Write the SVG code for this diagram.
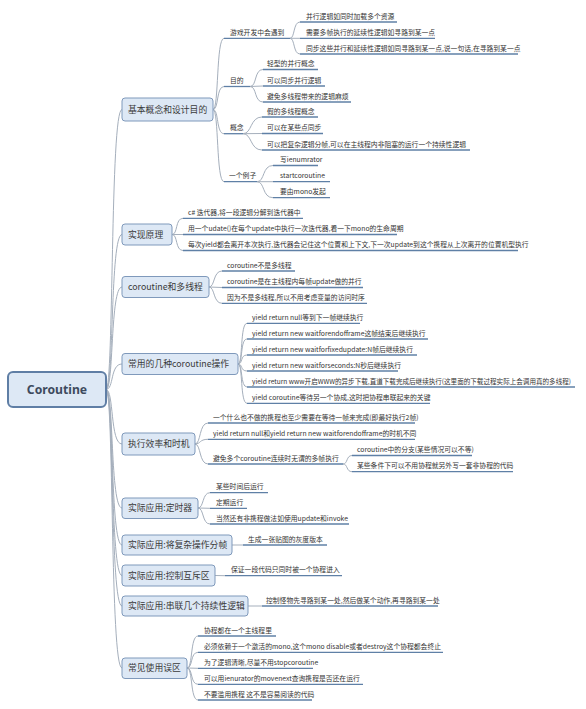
<svg xmlns="http://www.w3.org/2000/svg" width="586" height="709" viewBox="0 0 586 709">
<style>
text{font-family:"Noto Sans CJK SC","Noto Sans",sans-serif;fill:#333}
.t2{font-size:6.8px}
.t1{font-size:8.8px;fill:#3a3a3a}
.t0{font-family:"Noto Sans","Noto Sans CJK SC",sans-serif;font-size:12.2px;font-weight:bold;fill:#3d4b5e}
.box{fill:#dde8f5;stroke:#7f99bb;stroke-width:1}
.root{fill:#dde8f5;stroke:#5f7ea5;stroke-width:2}
.c{fill:none;stroke:#a5afbc;stroke-width:1}
.u{fill:none;stroke:#5f80a6;stroke-width:1.3}
</style>
<rect width="586" height="709" fill="#fff"/>
<g id="connectors">
<path class="c" d="M106 389.5 C114 389.5 110 109.5 122 109.5"/>
<path class="c" d="M106 389.5 C114 389.5 110 234.5 122 234.5"/>
<path class="c" d="M106 389.5 C114 389.5 110 287 122 287"/>
<path class="c" d="M106 389.5 C114 389.5 110 364 122 364"/>
<path class="c" d="M106 389.5 C114 389.5 110 444 122 444"/>
<path class="c" d="M106 389.5 C114 389.5 110 508 122 508"/>
<path class="c" d="M106 389.5 C114 389.5 110 545 122 545"/>
<path class="c" d="M106 389.5 C114 389.5 110 575.5 122 575.5"/>
<path class="c" d="M106 389.5 C114 389.5 110 606 122 606"/>
<path class="c" d="M106 389.5 C114 389.5 110 668 122 668"/>
<path class="c" d="M213 109.5 C219 109.5 216 38.3 224 38.3"/>
<path class="c" d="M213 109.5 C219 109.5 216 86.5 224 86.5"/>
<path class="c" d="M213 109.5 C219 109.5 216 133.7 224 133.7"/>
<path class="c" d="M213 109.5 C219 109.5 216 181.7 224 181.7"/>
<path class="c" d="M290 38.3 C295 38.3 293 22 300 22"/>
<path class="c" d="M290 38.3 L300 38.3"/>
<path class="c" d="M290 38.3 C295 38.3 293 54 300 54"/>
<path class="c" d="M250 86.5 C257 86.5 254 69.5 263 69.5"/>
<path class="c" d="M250 86.5 L263 86"/>
<path class="c" d="M250 86.5 C257 86.5 254 102 263 102"/>
<path class="c" d="M243 133.7 C252 133.7 250 117 262 117"/>
<path class="c" d="M243 133.7 L262 133.5"/>
<path class="c" d="M243 133.7 C252 133.7 250 150 262 150"/>
<path class="c" d="M257 181.7 C265 181.7 262 165.5 273 165.5"/>
<path class="c" d="M257 181.7 L273 181.7"/>
<path class="c" d="M257 181.7 C265 181.7 262 197.7 273 197.7"/>
<path class="c" d="M172 234.5 C178 234.5 175 218.3 183 218.3"/>
<path class="c" d="M172 234.5 L183 234.5"/>
<path class="c" d="M172 234.5 C178 234.5 175 250.5 183 250.5"/>
<path class="c" d="M209 287 C215 287 213 271 222 271"/>
<path class="c" d="M209 287 L222 287.5"/>
<path class="c" d="M209 287 C215 287 213 303.3 222 303.3"/>
<path class="c" d="M238 364 C243 364 240 323.3 247 323.3"/>
<path class="c" d="M238 364 C243 364 240 339 247 339"/>
<path class="c" d="M238 364 C243 364 240 355 247 355"/>
<path class="c" d="M238 364 C243 364 240 371 247 371"/>
<path class="c" d="M238 364 C243 364 240 387 247 387"/>
<path class="c" d="M238 364 C243 364 240 403.3 247 403.3"/>
<path class="c" d="M195 444 C201 444 199 423 208 423"/>
<path class="c" d="M195 444 C201 444 199 439.3 208 439.3"/>
<path class="c" d="M195 444 C201 444 199 464 208 464"/>
<path class="c" d="M343 464 C348 464 346 455.5 352 455.5"/>
<path class="c" d="M343 464 C348 464 346 471.7 352 471.7"/>
<path class="c" d="M198 508 C204 508 202 492.7 210 492.7"/>
<path class="c" d="M198 508 L210 508.3"/>
<path class="c" d="M198 508 C204 508 202 524 210 524"/>
<path class="c" d="M232 545 L243 545"/>
<path class="c" d="M215 575.5 L225 575.7"/>
<path class="c" d="M248 606 L262 606"/>
<path class="c" d="M187 668 C193 668 190 636 198 636"/>
<path class="c" d="M187 668 C193 668 190 652.3 198 652.3"/>
<path class="c" d="M187 668 L198 668.3"/>
<path class="c" d="M187 668 C193 668 190 684.3 198 684.3"/>
<path class="c" d="M187 668 C193 668 190 700 198 700"/>
</g>
<g id="root">
<rect class="root" x="8" y="372" width="98" height="35" rx="5"/>
<text class="t0" x="57" y="394" text-anchor="middle">Coroutine</text>
</g>
<g id="n1">
<rect class="box" x="122" y="98" width="91" height="23" rx="3"/>
<text class="t1" x="128" y="112.7">基本概念和设计目的</text>
</g>
<g id="n1a"><path class="u" d="M224 38.3H290"/><text class="t2" x="230" y="34.8">游戏开发中会遇到</text></g>
<g id="n1a1"><path class="u" d="M300 22H397"/><text class="t2" x="306" y="18.5">并行逻辑如同时加载多个资源</text></g>
<g id="n1a2"><path class="u" d="M300 38.3H435"/><text class="t2" x="306" y="34.8">需要多帧执行的延续性逻辑如寻路到某一点</text></g>
<g id="n1a3"><path class="u" d="M300 54H518"/><text class="t2" x="306" y="50.5">同步这些并行和延续性逻辑如同寻路到某一点,说一句话,在寻路到某一点</text></g>
<g id="n1b"><path class="u" d="M224 86.5H250"/><text class="t2" x="230" y="83">目的</text></g>
<g id="n1b1"><path class="u" d="M263 69.5H318"/><text class="t2" x="267" y="66">轻型的并行概念</text></g>
<g id="n1b2"><path class="u" d="M263 86H325"/><text class="t2" x="267" y="82.5">可以同步并行逻辑</text></g>
<g id="n1b3"><path class="u" d="M263 102H351"/><text class="t2" x="267" y="98.5">避免多线程带来的逻辑麻烦</text></g>
<g id="n1c"><path class="u" d="M224 133.7H243"/><text class="t2" x="230" y="130.2">概念</text></g>
<g id="n1c1"><path class="u" d="M262 117H318"/><text class="t2" x="267" y="113.5">假的多线程概念</text></g>
<g id="n1c2"><path class="u" d="M262 133.5H323"/><text class="t2" x="267" y="130">可以在某些点同步</text></g>
<g id="n1c3"><path class="u" d="M262 150H470"/><text class="t2" x="267" y="146.5">可以把复杂逻辑分帧,可以在主线程内非阻塞的运行一个持续性逻辑</text></g>
<g id="n1d"><path class="u" d="M224 181.7H257"/><text class="t2" x="229" y="178.2">一个例子</text></g>
<g id="n1d1"><path class="u" d="M273 165.5H318"/><text class="t2" x="280" y="162">写ienumrator</text></g>
<g id="n1d2"><path class="u" d="M273 181.7H330"/><text class="t2" x="280" y="178.2">startcoroutine</text></g>
<g id="n1d3"><path class="u" d="M273 197.7H330"/><text class="t2" x="280" y="194.2">要由mono发起</text></g>
<g id="n2">
<rect class="box" x="122" y="224" width="50" height="21" rx="3"/>
<text class="t1" x="128" y="237.7">实现原理</text>
</g>
<g id="n2a"><path class="u" d="M183 218.3H303"/><text class="t2" x="188" y="214.8">c# 迭代器,将一段逻辑分解到迭代器中</text></g>
<g id="n2b"><path class="u" d="M183 234.5H397"/><text class="t2" x="188" y="231">用一个udate()在每个update中执行一次迭代器,看一下mono的生命周期</text></g>
<g id="n2c"><path class="u" d="M183 250.5H518"/><text class="t2" x="188" y="247">每次yield都会离开本次执行,迭代器会记住这个位置和上下文,下一次update到这个携程从上次离开的位置机型执行</text></g>
<g id="n3">
<rect class="box" x="122" y="276.5" width="87" height="21" rx="3"/>
<text class="t1" x="128" y="290.2">coroutine和多线程</text>
</g>
<g id="n3a"><path class="u" d="M222 271H295"/><text class="t2" x="227" y="267.5">coroutine不是多线程</text></g>
<g id="n3b"><path class="u" d="M222 287.5H363"/><text class="t2" x="227" y="284">coroutine是在主线程内每帧update做的并行</text></g>
<g id="n3c"><path class="u" d="M222 303.3H367"/><text class="t2" x="227" y="299.8">因为不是多线程,所以不用考虑变量的访问时序</text></g>
<g id="n4">
<rect class="box" x="122" y="353.5" width="116" height="21" rx="3"/>
<text class="t1" x="128" y="367.2">常用的几种coroutine操作</text>
</g>
<g id="n4a"><path class="u" d="M247 323.3H360"/><text class="t2" x="252" y="319.8">yield return null等到下一帧继续执行</text></g>
<g id="n4b"><path class="u" d="M247 339H428"/><text class="t2" x="252" y="335.5">yield return new waitforendofframe这帧结束后继续执行</text></g>
<g id="n4c"><path class="u" d="M247 355H417"/><text class="t2" x="252" y="351.5">yield return new waitforfixedupdate:N帧后继续执行</text></g>
<g id="n4d"><path class="u" d="M247 371H398"/><text class="t2" x="252" y="367.5">yield return new waitforseconds:N秒后继续执行</text></g>
<g id="n4e"><path class="u" d="M247 387H575"/><text class="t2" x="252" y="383.5" textLength="319" lengthAdjust="spacingAndGlyphs">yield return www开启WWW的异步下载,直道下载完成后继续执行(这里面的下载过程实际上会调用真的多线程)</text></g>
<g id="n4f"><path class="u" d="M247 403.3H430"/><text class="t2" x="252" y="399.8">yield coroutine等待另一个协成,这时把协程串联起来的关键</text></g>
<g id="n5">
<rect class="box" x="122" y="433" width="73" height="22" rx="3"/>
<text class="t1" x="128" y="447.2">执行效率和时机</text>
</g>
<g id="n5a"><path class="u" d="M208 423H415"/><text class="t2" x="213" y="419.5">一个什么也不做的携程也至少需要在等待一帧来完成(即最好执行2帧)</text></g>
<g id="n5b"><path class="u" d="M208 439.3H415"/><text class="t2" x="213" y="435.8">yield return null和yield return new waitforendofframe的时机不同</text></g>
<g id="n5c"><path class="u" d="M208 464H343"/><text class="t2" x="213" y="460.5">避免多个coroutine连续时无谓的多帧执行</text></g>
<g id="n5c1"><path class="u" d="M352 455.5H472"/><text class="t2" x="357" y="452">coroutine中的分支(某些情况可以不等)</text></g>
<g id="n5c2"><path class="u" d="M352 471.7H513"/><text class="t2" x="357" y="468.2">某些条件下可以不用协程就另外写一套非协程的代码</text></g>
<g id="n6">
<rect class="box" x="122" y="498" width="76" height="20.5" rx="3"/>
<text class="t1" x="128" y="511.4">实际应用:定时器</text>
</g>
<g id="n6a"><path class="u" d="M210 492.7H268"/><text class="t2" x="216" y="489.2">某些时间后运行</text></g>
<g id="n6b"><path class="u" d="M210 508.3H247"/><text class="t2" x="216" y="504.8">定期运行</text></g>
<g id="n6c"><path class="u" d="M210 524H349"/><text class="t2" x="216" y="520.5">当然还有非携程做法如使用update和invoke</text></g>
<g id="n7">
<rect class="box" x="122" y="535" width="110" height="20" rx="3"/>
<text class="t1" x="128" y="548.2">实际应用:将复杂操作分帧</text>
</g>
<g id="n7a"><path class="u" d="M243 545H327"/><text class="t2" x="248" y="541.5">生成一张贴图的灰度版本</text></g>
<g id="n8">
<rect class="box" x="122" y="565" width="93" height="21" rx="3"/>
<text class="t1" x="128" y="578.7">实际应用:控制互斥区</text>
</g>
<g id="n8a"><path class="u" d="M225 575.7H342"/><text class="t2" x="231" y="572.2">保证一段代码只同时被一个协程进入</text></g>
<g id="n9">
<rect class="box" x="122" y="596" width="126" height="20" rx="3"/>
<text class="t1" x="128" y="609.2">实际应用:串联几个持续性逻辑</text>
</g>
<g id="n9a"><path class="u" d="M262 606H438"/><text class="t2" x="266" y="602.5">控制怪物先寻路到某一处,然后做某个动作,再寻路到某一处</text></g>
<g id="n10">
<rect class="box" x="122" y="658" width="65" height="20.5" rx="3"/>
<text class="t1" x="128" y="671.4">常见使用误区</text>
</g>
<g id="n10a"><path class="u" d="M198 636H276"/><text class="t2" x="204" y="632.5">协程都在一个主线程里</text></g>
<g id="n10b"><path class="u" d="M198 652.3H443"/><text class="t2" x="204" y="648.8">必须依赖于一个激活的mono,这个mono disable或者destroy这个协程都会终止</text></g>
<g id="n10c"><path class="u" d="M198 668.3H313"/><text class="t2" x="204" y="664.8">为了逻辑清晰,尽量不用stopcoroutine</text></g>
<g id="n10d"><path class="u" d="M198 684.3H363"/><text class="t2" x="204" y="680.8">可以用ienurator的movenext查询携程是否还在运行</text></g>
<g id="n10e"><path class="u" d="M198 700H312"/><text class="t2" x="204" y="696.5">不要滥用携程 这不是容易阅读的代码</text></g>
</svg>
